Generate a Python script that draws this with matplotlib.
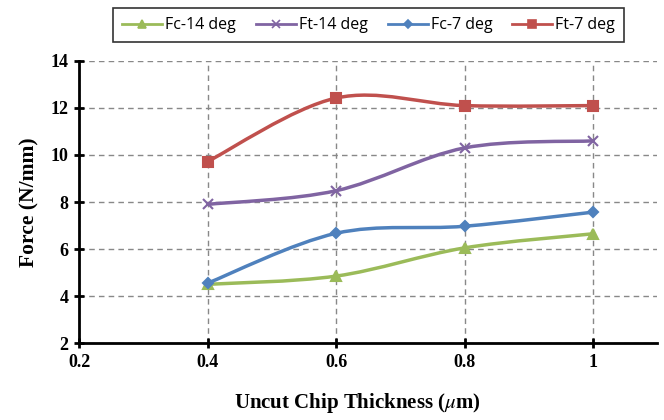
import numpy as np
import matplotlib
matplotlib.use('Agg')
import matplotlib.pyplot as plt
from matplotlib.path import Path
from matplotlib.patches import PathPatch
from matplotlib.lines import Line2D

thickness = [0.4, 0.6, 0.8, 1.0]
fc_14 = [4.5, 4.85, 6.05, 6.65]
ft_14 = [7.9, 8.48, 10.3, 10.6]
fc_7 = [4.55, 6.67, 6.97, 7.57]
ft_7 = [9.72, 12.42, 12.1, 12.1]

series = [
    ('Fc-14 deg', fc_14, '#9BBB59', '^', 7),
    ('Ft-14 deg', ft_14, '#8064A2', 'x', 7),
    ('Fc-7 deg', fc_7, '#4F81BD', 'D', 5.5),
    ('Ft-7 deg', ft_7, '#C0504D', 's', 7),
]

plt.rcParams['mathtext.fontset'] = 'stix'


def smooth_path(xs, ys):
    # excel-like smoothed line: bezier segments through every point
    p = np.column_stack([xs, ys])
    n = len(p)
    verts = [p[0]]
    codes = [Path.MOVETO]
    for i in range(n - 1):
        p0 = p[i - 1] if i > 0 else p[i]
        p3 = p[i + 2] if i + 2 < n else p[i + 1]
        c1 = p[i] + (p[i + 1] - p0) / 6
        c2 = p[i + 1] - (p3 - p[i]) / 6
        verts += [c1, c2, p[i + 1]]
        codes += [Path.CURVE4] * 3
    return Path(verts, codes)


fig = plt.figure(figsize=(6.64, 4.2), dpi=100)
ax = fig.add_axes([0.119, 0.183, 0.871, 0.672])

handles = []
for name, vals, col, mk, ms in series:
    ax.add_patch(PathPatch(smooth_path(thickness, vals), fill=False,
                           edgecolor=col, lw=2.5, zorder=3))
    ax.plot(thickness, vals, ls='none', marker=mk, color=col, ms=ms,
            mew=1.5, zorder=4)
    handles.append(Line2D([], [], color=col, lw=2, marker=mk, ms=ms - 1, mew=1.2))

ax.set_xlim(0.2, 1.1)
ax.set_ylim(2, 14)
ax.set_xticks([0.2, 0.4, 0.6, 0.8, 1.0])
ax.set_xticklabels(['0.2', '0.4', '0.6', '0.8', '1'])
ax.set_yticks(range(2, 15, 2))
ax.grid(True, ls='--', color='#888888', lw=1, dashes=(4, 3))
ax.set_axisbelow(True)

for s in ['top', 'right']:
    ax.spines[s].set_visible(False)
for s in ['left', 'bottom']:
    ax.spines[s].set_linewidth(2)
ax.tick_params(direction='inout', length=7, width=2, pad=4)
for lab in ax.get_xticklabels() + ax.get_yticklabels():
    lab.set_fontfamily('Liberation Serif')
    lab.set_fontweight('bold')
    lab.set_fontsize(13)

ax.set_xlabel('Uncut Chip Thickness ($\\mu$m)', family='Liberation Serif',
              weight='bold', fontsize=15)
ax.xaxis.set_label_coords(0.481, -0.17)
ax.set_ylabel('Force (N/mm)', family='Liberation Serif', weight='bold',
              fontsize=15.5, labelpad=8)

leg = fig.legend(handles, [s[0] for s in series], loc='center',
                 bbox_to_anchor=(0.555, 0.94), ncol=4, frameon=True,
                 fancybox=False, edgecolor='black', handlelength=2.5,
                 columnspacing=1.25, handletextpad=0.2, borderpad=0.55,
                 prop={'family': 'Open Sans', 'size': 11.5})
leg.get_frame().set_linewidth(1.2)

fig.savefig('out.png', dpi=100)
